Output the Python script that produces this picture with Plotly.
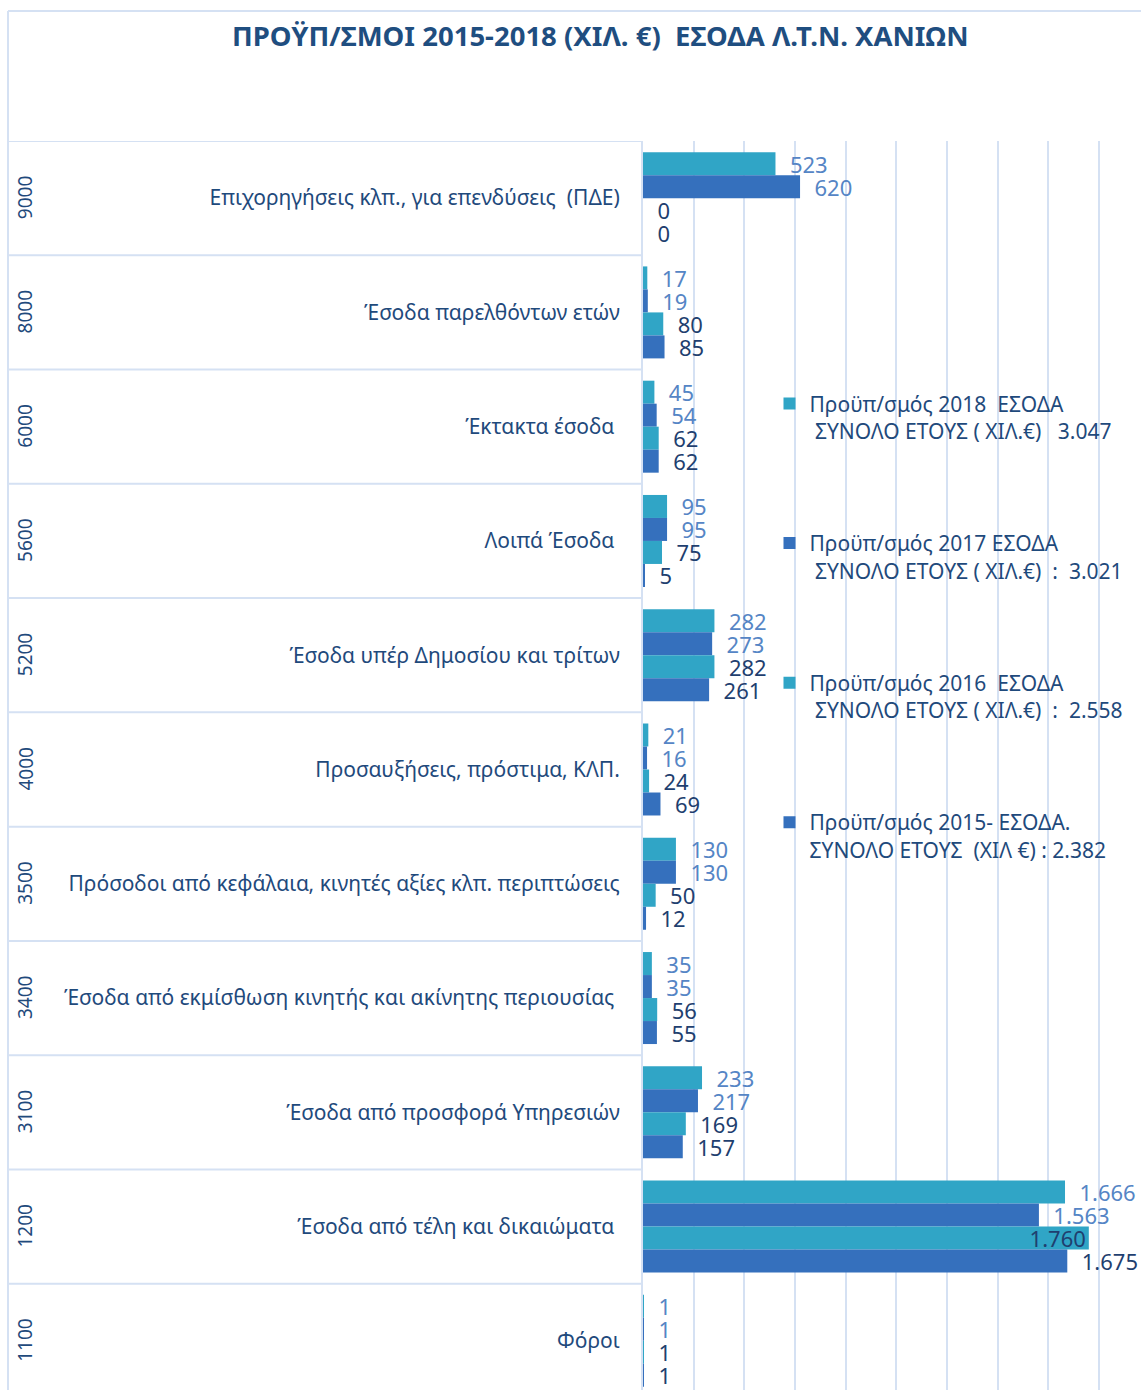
import plotly.graph_objects as go

_GRID = '#d5e1f3'
_NAVY = '#1f4a7c'
_TITLE = '#1f4e80'
_TEAL = '#30a5c6'
_BLUE = '#3570bd'
_LBL_LIGHT = '#5585c5'
_LBL_DARK = '#1f3f6f'

codes = ['9000', '8000', '6000', '5600', '5200', '4000', '3500', '3400', '3100', '1200', '1100']
names = [
    'Επιχορηγήσεις κλπ., για επενδύσεις  (ΠΔΕ)',
    'Έσοδα παρελθόντων ετών',
    'Έκτακτα έσοδα ',
    'Λοιπά Έσοδα ',
    'Έσοδα υπέρ Δημοσίου και τρίτων',
    'Προσαυξήσεις, πρόστιμα, ΚΛΠ.',
    'Πρόσοδοι από κεφάλαια, κινητές αξίες κλπ. περιπτώσεις',
    'Έσοδα από εκμίσθωση κινητής και ακίνητης περιουσίας ',
    'Έσοδα από προσφορά Υπηρεσιών',
    'Έσοδα από τέλη και δικαιώματα ',
    'Φόροι',
]
y2018 = [523, 17, 45, 95, 282, 21, 130, 35, 233, 1666, 1]
y2017 = [620, 19, 54, 95, 273, 16, 130, 35, 217, 1563, 1]
y2016 = [0, 80, 62, 75, 282, 24, 50, 56, 169, 1760, 1]
y2015 = [0, 85, 62, 5, 261, 69, 12, 55, 157, 1675, 1]

series = [
    ('Προϋπ/σμός 2018\u00a0\u00a0ΕΣΟΔΑ<br>\u00a0ΣΥΝΟΛΟ ΕΤΟΥΣ ( ΧΙΛ.€)\u00a0\u00a0\u00a03.047', y2018, _TEAL, _LBL_LIGHT),
    ('Προϋπ/σμός 2017 ΕΣΟΔΑ<br>\u00a0ΣΥΝΟΛΟ ΕΤΟΥΣ ( ΧΙΛ.€)\u00a0\u00a0:\u00a0\u00a03.021', y2017, _BLUE, _LBL_LIGHT),
    ('Προϋπ/σμός 2016\u00a0\u00a0ΕΣΟΔΑ<br>\u00a0ΣΥΝΟΛΟ ΕΤΟΥΣ ( ΧΙΛ.€)\u00a0\u00a0:\u00a0\u00a02.558', y2016, _TEAL, _LBL_DARK),
    ('Προϋπ/σμός 2015- ΕΣΟΔΑ.<br>ΣΥΝΟΛΟ ΕΤΟΥΣ\u00a0\u00a0(ΧΙΛ €) : 2.382', y2015, _BLUE, _LBL_DARK),
]

fig = go.Figure()
for i, (label, vals, color, tcolor) in enumerate(series):
    # the longest bar has no room on the right, so its label goes inside
    pos = ['inside' if v > 1700 else 'outside' for v in vals]
    fig.add_trace(go.Bar(
        name=label,
        legendgroup=f'g{i}',
        x=vals,
        y=names,
        orientation='h',
        marker=dict(color=color, line=dict(width=0)),
        texttemplate='\u00a0\u00a0%{x:,}',
        textposition=pos,
        insidetextanchor='end',
        constraintext='none',
        cliponaxis=False,
        textfont=dict(size=22, color=tcolor),
        insidetextfont=dict(size=22, color=tcolor),
        outsidetextfont=dict(size=22, color=tcolor),
        hoverinfo='skip',
    ))

fig.update_layout(
    width=1141,
    height=1390,
    margin=dict(l=643, r=0, t=141, b=0),
    barmode='group',
    bargap=0.195,
    bargroupgap=0,
    separators=',.',
    paper_bgcolor='white',
    plot_bgcolor='white',
    font=dict(family='Noto Sans', color=_NAVY),
    title=dict(
        text='ΠΡΟΫΠ/ΣΜΟΙ 2015-2018 (ΧΙΛ. €)\u00a0\u00a0ΕΣΟΔΑ Λ.Τ.Ν. ΧΑΝΙΩΝ',
        xref='container', x=0.526, xanchor='center',
        yref='container', y=1 - 36 / 1390, yanchor='middle',
        font=dict(size=27.5, color=_TITLE, family='Noto Sans', weight='bold'),
    ),
    legend=dict(
        x=0.254, y=0.806, xanchor='left', yanchor='top',
        bgcolor='rgba(0,0,0,0)',
        font=dict(size=21, color=_NAVY),
        traceorder='grouped',
        tracegroupgap=82,
        valign='top',
    ),
    xaxis=dict(
        range=[0, 1966], dtick=200,
        showgrid=True, gridcolor=_GRID, gridwidth=2,
        showticklabels=False, zeroline=False, showline=False,
    ),
    yaxis=dict(
        type='category',
        categoryorder='array', categoryarray=names,
        range=[10.43, -0.5],
        showline=True, linecolor=_GRID, linewidth=2,
        showgrid=False, ticks='',
        ticklabelstandoff=17,
        tickfont=dict(size=21, color=_NAVY),
    ),
)

# codes column on the far left
left = (8 - 643) / 498
for c, n in zip(codes, names):
    fig.add_annotation(
        x=(25 - 643) / 498, xref='paper', xanchor='center',
        y=n, yref='y', yanchor='middle',
        text=c, textangle=-90, showarrow=False,
        font=dict(size=19, color=_NAVY),
    )

# row dividers in the label area
for k in range(len(names) + 1):
    fig.add_shape(type='line', xref='paper', yref='y',
                  x0=left, x1=0, y0=k - 0.5, y1=k - 0.5,
                  line=dict(color=_GRID, width=2))

# chart frame
top = (1390 - 11) / 1249
fig.add_shape(type='line', xref='paper', yref='paper', x0=left, x1=1, y0=top, y1=top,
              line=dict(color=_GRID, width=2))
fig.add_shape(type='line', xref='paper', yref='paper', x0=left, x1=left, y0=-0.01, y1=top,
              line=dict(color=_GRID, width=2))

fig.write_html('out.html', config={'displayModeBar': False},
               post_script="document.body.style.margin='0px';")
